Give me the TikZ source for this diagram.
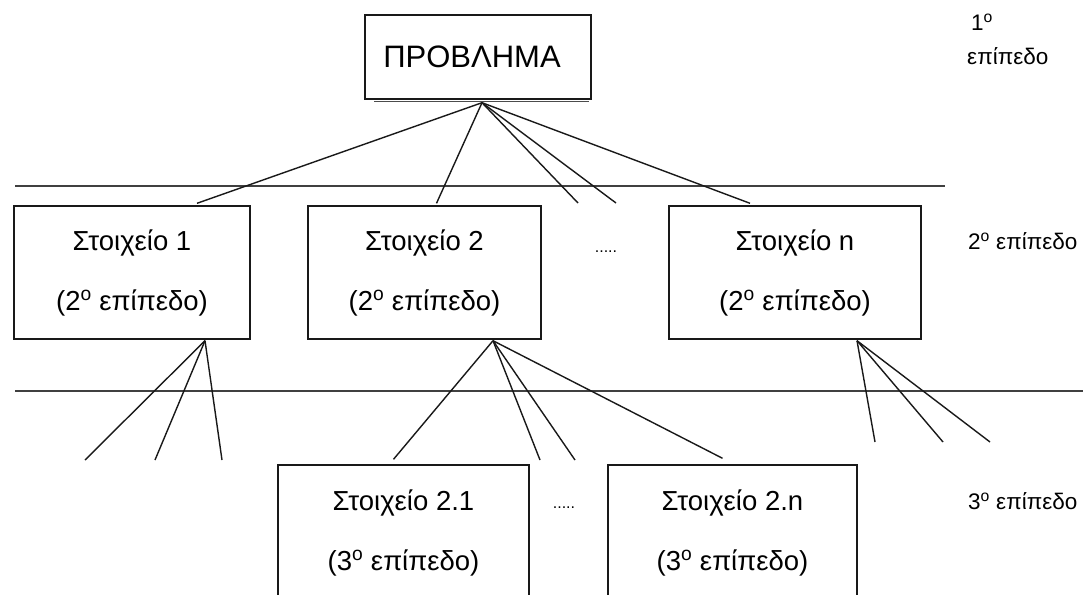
\documentclass[tikz,border=0pt]{standalone}
\usepackage{fontspec}
\setmainfont{Liberation Sans}
\usetikzlibrary{calc}
\begin{document}
\begin{tikzpicture}[x=1pt,y=-1pt,
  rule/.style={draw=black!75,line width=1.7pt},
  link/.style={draw=black!90,line width=1.4pt},
  levelbox/.style={draw=black!90,line width=1.4pt,align=center,inner sep=0pt,
    font=\fontsize{27.5}{60}\selectfont},
  sidelabel/.style={font=\fontsize{22.5}{34}\selectfont,inner sep=0pt},
  dots/.style={font=\fontsize{16}{16}\selectfont,inner sep=0pt}]
  \clip (0,0) rectangle (1083,594);
  \fill[white] (0,0) rectangle (1083,594);

  % separators between the levels
  \coordinate (r1a) at (15,186);  \coordinate (r1b) at (945,186);
  \coordinate (r2a) at (15,391);  \coordinate (r2b) at (1083,391);
  \draw[rule] (r1a) -- (r1b);
  \draw[rule] (r2a) -- (r2b);

  % level 1
  \node[draw=black!90,line width=1.4pt,minimum width=226,minimum height=84,
    inner sep=0pt] (problem) at (478,57) {};
  \node[font=\fontsize{31}{36}\selectfont,inner sep=0pt] (problemtext) at (472,57) {ΠΡΟΒΛΗΜΑ};
  \draw[black!70,line width=1.4pt] ($(problem.south west)+(10,2)$) -- ($(problem.south east)+(-3,2)$);

  % level 2
  \node[levelbox,minimum width=236,minimum height=133] (box1) at (132,272.5)
    {Στοιχείο 1\\(2\textsuperscript{o} επίπεδο)};
  \node[levelbox,minimum width=233,minimum height=133] (box2) at (424.5,272.5)
    {Στοιχείο 2\\(2\textsuperscript{o} επίπεδο)};
  \node[levelbox,minimum width=252,minimum height=133] (boxn) at (795,272.5)
    {Στοιχείο n\\(2\textsuperscript{o} επίπεδο)};
  \node[dots] (dots2) at (606,252) {.....};

  % level 3
  \node[levelbox,minimum width=251,minimum height=135] (box21) at (403.5,532.5)
    {Στοιχείο 2.1\\(3\textsuperscript{o} επίπεδο)};
  \node[levelbox,minimum width=249,minimum height=135] (box2n) at (732.5,532.5)
    {Στοιχείο 2.n\\(3\textsuperscript{o} επίπεδο)};
  \node[dots] (dots3) at (564,508) {.....};

  % level labels on the right
  \node[sidelabel,align=left,anchor=north west] (lab1) at (967,14) {\hspace{4pt}1\textsuperscript{o}\\επίπεδο};
  \node[sidelabel,anchor=west] (lab2) at (968,241) {2\textsuperscript{o} επίπεδο};
  \node[sidelabel,anchor=west] (lab3) at (968,501) {3\textsuperscript{o} επίπεδο};

  % branching points
  \coordinate (pa) at ($(problem.south)+(4,3)$);
  \coordinate (b1a) at ($(box1.south)+(73,1)$);
  \coordinate (b2a) at ($(box2.south)+(68.5,1)$);
  \coordinate (bna) at ($(boxn.south)+(62,1)$);

  % open branch ends
  \coordinate (pe3) at (578,203);
  \coordinate (pe4) at (616,203);
  \coordinate (e11) at (85,460);
  \coordinate (e12) at (155,460);
  \coordinate (e13) at (222,460);
  \coordinate (e22) at (540,460);
  \coordinate (e23) at (575,460);
  \coordinate (en1) at (875,442);
  \coordinate (en2) at (943,442);
  \coordinate (en3) at (990,442);

  % problem to level 2
  \draw[link] (pa) -- ($(box1.north)+(65,-2)$);
  \draw[link] (pa) -- ($(box2.north)+(12,-2)$);
  \draw[link] (pa) -- (pe3);
  \draw[link] (pa) -- (pe4);
  \draw[link] (pa) -- ($(boxn.north)+(-45,-2)$);

  % element 1 to level 3
  \draw[link] (b1a) -- (e11);
  \draw[link] (b1a) -- (e12);
  \draw[link] (b1a) -- (e13);

  % element 2 to level 3
  \draw[link] (b2a) -- ($(box21.north)+(-10,-5)$);
  \draw[link] (b2a) -- (e22);
  \draw[link] (b2a) -- (e23);
  \draw[link] (b2a) -- ($(box2n.north)+(-10,-6)$);

  % element n to level 3
  \draw[link] (bna) -- (en1);
  \draw[link] (bna) -- (en2);
  \draw[link] (bna) -- (en3);
\end{tikzpicture}
\end{document}
